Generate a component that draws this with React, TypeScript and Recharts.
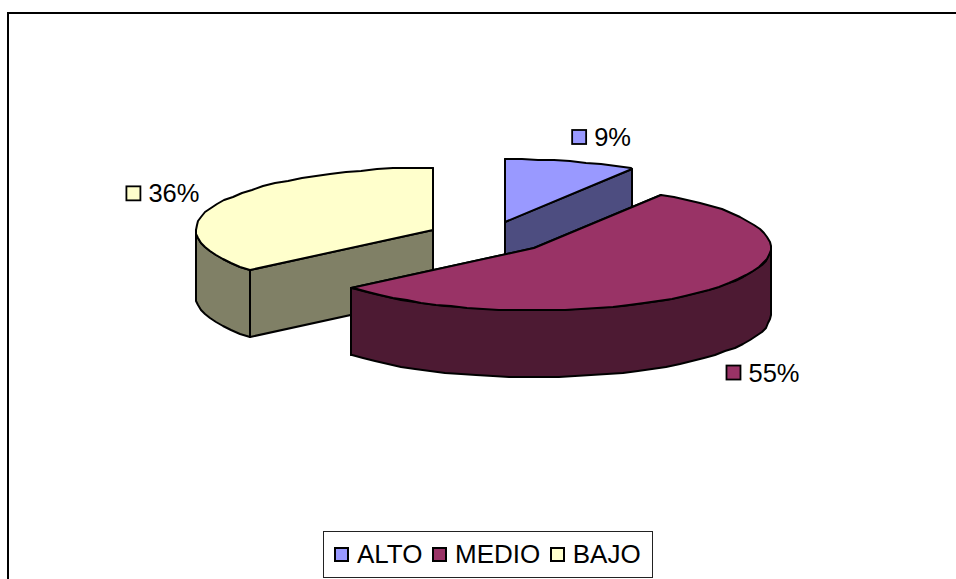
import React from 'react';
import { PieChart, Pie, Legend } from 'recharts';

// legend order
const categories = ['ALTO', 'MEDIO', 'BAJO'];
const shares = [9, 55, 36];
const topColors = ['#9999FF', '#993366', '#FFFFCC'];
const sideColors = ['#4D4D80', '#4D1A33', '#808066'];

// MEDIO overlaps its neighbours so it has to be painted last
const drawOrder = [2, 0, 1];

const FONT = '"Liberation Sans", Arial, sans-serif';
const FONT_SIZE = 25.5;
const FLATTEN = 0.264; // ellipse ry / rx
const DEPTH = 67;
const EXPLODE = 61;

const pieData = drawOrder.map((i) => ({
  name: categories[i],
  value: shares[i],
  fill: topColors[i],
  side: sideColors[i],
}));

// the first drawn slice (BAJO) starts after ALTO and MEDIO, clockwise from 12 o'clock
const startClockwise = ((shares[0] + shares[1]) / 100) * 360;
const pieStart = 90 - startClockwise;

const RAD = Math.PI / 180;

// a = degrees clockwise from 12 o'clock, r = x radius of the ellipse
const onEllipse = (x: number, y: number, r: number, a: number): [number, number] => [
  Math.round(x + r * Math.sin(a * RAD)),
  Math.round(y - r * FLATTEN * Math.cos(a * RAD)),
];

const explodedCenter = (cx: number, cy: number, midAngle: number) => {
  const a = 90 - midAngle;
  return {
    x: cx + EXPLODE * Math.sin(a * RAD),
    y: cy - EXPLODE * FLATTEN * Math.cos(a * RAD),
  };
};

const arcPoints = (x: number, y: number, r: number, from: number, to: number) => {
  const pts: [number, number][] = [];
  for (let a = from; a < to; a += 4) pts.push(onEllipse(x, y, r, a));
  pts.push(onEllipse(x, y, r, to));
  return pts;
};

const toPath = (pts: [number, number][]) =>
  'M' + pts.map((p) => p.join(',')).join('L') + 'Z';

const shift = (pts: [number, number][], dy: number): [number, number][] =>
  pts.map((p) => [p[0], p[1] + dy]);

const Slice3D = (props: any) => {
  const { cx, cy, outerRadius, startAngle, endAngle, midAngle, fill, side } = props;
  // recharts hands out running angles, bring the start back into 0-360
  const from = (((90 - startAngle) % 360) + 360) % 360;
  const to = from + (startAngle - endAngle);
  const c = explodedCenter(cx, cy, midAngle);
  const apex: [number, number] = [Math.round(c.x), Math.round(c.y)];
  const arc = arcPoints(c.x, c.y, outerRadius, from, to);
  const stroke = { stroke: '#000', strokeWidth: 2, strokeLinejoin: 'round' as const };

  const radialWall = (p: [number, number]) =>
    toPath([apex, p, [p[0], p[1] + DEPTH], [apex[0], apex[1] + DEPTH]]);

  // only the part of the rim between 3 and 9 o'clock faces the viewer
  const frontFrom = Math.max(from, 90);
  const frontTo = Math.min(to, 270);
  const front = frontFrom < frontTo ? arcPoints(c.x, c.y, outerRadius, frontFrom, frontTo) : null;

  return (
    <g>
      <path d={radialWall(arc[0])} fill={side} {...stroke} />
      <path d={radialWall(arc[arc.length - 1])} fill={side} {...stroke} />
      {front && (
        <path d={toPath([...front, ...shift(front, DEPTH).reverse()])} fill={side} {...stroke} />
      )}
      <path d={toPath([apex, ...arc])} fill={fill} {...stroke} />
    </g>
  );
};

const SliceLabel = (props: any) => {
  const { cx, cy, outerRadius, midAngle, value, fill } = props;
  const a = 90 - midAngle;
  const s = Math.sin(a * RAD);
  const co = Math.cos(a * RAD);
  const c = explodedCenter(cx, cy, midAngle);
  const [px, py] = onEllipse(c.x, c.y, outerRadius, a);
  const boxY = py + (co < 0 ? DEPTH : 0) - 25 * co;
  const text = `${value}%`;
  const textW = FONT_SIZE * (0.556 * String(value).length + 0.889);
  const boxW = 14 + 8 + textW;
  const edge = px + 18 * s - 1 - 3 * co;
  const left = s >= 0 ? edge : edge - boxW;
  return (
    <g>
      <rect x={left} y={boxY - 7} width={14} height={14} fill={fill} stroke="#000" strokeWidth={1.8} />
      <text x={left + 22} y={boxY + 9} fontFamily={FONT} fontSize={FONT_SIZE} fill="#000">
        {text}
      </text>
    </g>
  );
};

const LegendBox = () => (
  <div
    style={{
      boxSizing: 'border-box',
      width: 330,
      height: 47,
      border: '1.5px solid #222',
      background: '#fff',
      display: 'flex',
      alignItems: 'center',
      paddingLeft: 10,
      fontFamily: FONT,
      fontSize: 26,
      color: '#000',
    }}
  >
    {categories.map((name, i) => (
      <span key={name} style={{ display: 'flex', alignItems: 'center', marginRight: 9.5 }}>
        <span
          style={{
            boxSizing: 'border-box',
            width: 15,
            height: 15,
            background: topColors[i],
            border: '2px solid #000',
            marginRight: 8,
          }}
        />
        {name}
      </span>
    ))}
  </div>
);

export default function App() {
  return (
    <div
      style={{
        position: 'absolute',
        left: 0,
        top: 0,
        width: 956,
        height: 579,
        overflow: 'hidden',
        background: '#fff',
      }}
    >
      {/* chart area frame, cut off by the right and bottom of the picture */}
      <div
        style={{
          position: 'absolute',
          left: 7,
          top: 12,
          width: 1000,
          height: 700,
          borderTop: '2px solid #000',
          borderLeft: '2px solid #000',
        }}
      />
      <PieChart
        width={956}
        height={579}
        margin={{ top: 0, right: 0, bottom: 0, left: 0 }}
        style={{ position: 'absolute', left: 0, top: 0 }}
      >
        <Pie
          data={pieData}
          dataKey="value"
          nameKey="name"
          cx={488}
          cy={237}
          outerRadius={237}
          startAngle={pieStart}
          endAngle={pieStart - 360}
          stroke="none"
          shape={Slice3D}
          label={SliceLabel}
          labelLine={false}
          isAnimationActive={false}
        />
        <Legend
          content={LegendBox}
          wrapperStyle={{ position: 'absolute', left: 323, top: 531, width: 330, height: 47, bottom: 'auto' }}
        />
      </PieChart>
    </div>
  );
}
